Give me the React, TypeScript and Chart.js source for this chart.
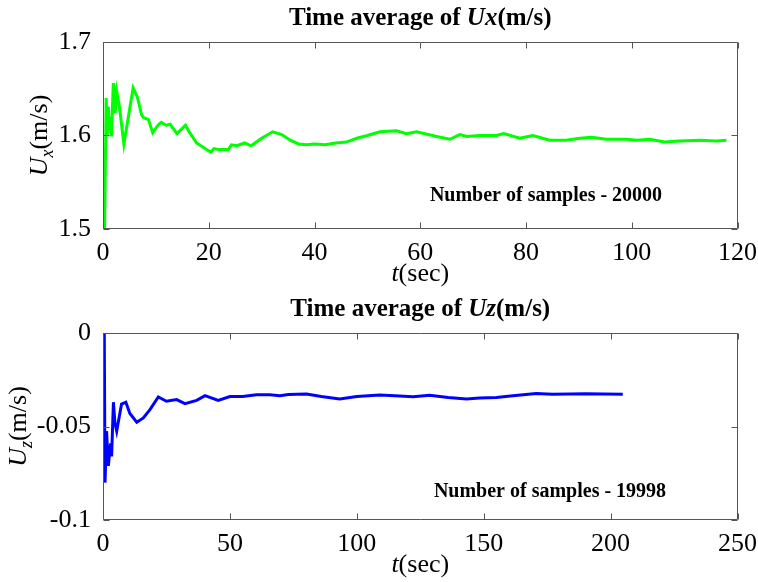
import React, { useEffect, useRef } from "react";
import { Chart, registerables } from "chart.js";

Chart.register(...registerables);

// ---------------- Data ----------------
const uxTime = [
  0.3, 0.6, 0.8, 1.0, 1.2, 1.4, 1.6, 1.95, 2.1, 2.3, 2.6, 3.1, 3.95, 4.8, 5.7, 6.5, 7.3, 7.7, 8.6, 9.4,
  10.4, 11, 12, 12.7, 14, 15.6, 16.4, 17.7, 19.3, 20.4, 21, 21.8, 23.7, 24.3, 25.3, 26.8, 28, 30, 32.1,
  33.8, 35.4, 37, 38.5, 40, 42, 44, 46, 48, 50, 52.4, 55.5, 57.4, 59.3, 63.1, 65.6, 67.5, 68.8, 71.3,
  74.4, 75.8, 78.8, 81.3, 84.5, 87.6, 90.2, 92.4, 95.2, 99, 101, 103.4, 106.2, 109, 112.9, 116, 117.9,
];
const uxValues = [
  1.5, 1.64, 1.6, 1.631, 1.606, 1.62, 1.599, 1.656, 1.648, 1.624, 1.647, 1.631, 1.591, 1.62, 1.651,
  1.641, 1.622, 1.619, 1.617, 1.603, 1.611, 1.614, 1.611, 1.612, 1.602, 1.611, 1.603, 1.592, 1.586,
  1.582, 1.586, 1.585, 1.585, 1.59, 1.589, 1.592, 1.589, 1.597, 1.604, 1.601, 1.595, 1.591, 1.59,
  1.591, 1.59, 1.592, 1.593, 1.597, 1.6, 1.604, 1.605, 1.602, 1.604, 1.599, 1.596, 1.601, 1.599, 1.6,
  1.6, 1.602, 1.597, 1.6, 1.595, 1.595, 1.597, 1.598, 1.596, 1.596, 1.595, 1.596, 1.593, 1.594, 1.595,
  1.594, 1.595,
];

const uzTime = [
  0.5, 0.8, 1.4, 2.1, 3.0, 3.4, 4.1, 4.7, 5.4, 7.3, 9, 10.6, 13.3, 15.9, 18.5, 21.8, 25, 29, 32.3, 36.9,
  40.2, 45.4, 50, 55, 60.5, 65.7, 69.7, 73, 80.2, 86, 93.3, 100, 109, 115, 122.2, 128.7, 136, 143.2,
  148.4, 155, 161.5, 170.7, 177, 183.9, 190, 197, 204.8,
];
const uzValues = [
  0, -0.08, -0.0525, -0.071, -0.059, -0.066, -0.037, -0.048, -0.0525, -0.038, -0.037, -0.043, -0.0477,
  -0.0454, -0.041, -0.0342, -0.0365, -0.0356, -0.0378, -0.036, -0.0335, -0.036, -0.034, -0.034, -0.033,
  -0.033, -0.0335, -0.0329, -0.0326, -0.034, -0.0353, -0.034, -0.0331, -0.0335, -0.0341, -0.0333,
  -0.0345, -0.0353, -0.0347, -0.0345, -0.0335, -0.0323, -0.0327, -0.0326, -0.0325, -0.0326, -0.0328,
];

const uxXTicks = [0, 20, 40, 60, 80, 100, 120];
const uxYTicks = [1.5, 1.6, 1.7];
const uzXTicks = [0, 50, 100, 150, 200, 250];
const uzYTicks = [-0.1, -0.05, 0];
const uxYTickLabels = ["1.5", "1.6", "1.7"];
const uzYTickLabels = ["-0.1", "-0.05", "0"];

const uxNote = "Number of samples - 20000";
const uzNote = "Number of samples - 19998";

// ---------------- Styling ----------------
const SERIF = '"Liberation Serif", "Times New Roman", serif';
const W = 758;
const H = 291;

type Part = { text: string; font: string; dy?: number };

function drawParts(ctx: CanvasRenderingContext2D, parts: Part[], cx: number, y: number) {
  let total = 0;
  parts.forEach((p) => {
    ctx.font = p.font;
    total += ctx.measureText(p.text).width;
  });
  let x = cx - total / 2;
  parts.forEach((p) => {
    ctx.font = p.font;
    ctx.fillText(p.text, x, y + (p.dy || 0));
    x += ctx.measureText(p.text).width;
  });
}

const framePlugin = {
  id: "frame",
  afterDraw(chart: any, _args: any, opts: any) {
    const { ctx, chartArea: a, scales } = chart;
    ctx.save();
    // box
    ctx.strokeStyle = "#555555";
    ctx.lineWidth = 1;
    const l = Math.round(a.left) + 0.5;
    const r = Math.round(a.right) - 0.5;
    const t = Math.round(a.top) + 0.5;
    const b = Math.round(a.bottom) - 0.5;
    ctx.beginPath();
    ctx.rect(l, t, r - l, b - t);
    const L = 6;
    scales.x.ticks.forEach((tk: any) => {
      const px = Math.round(scales.x.getPixelForValue(tk.value)) + 0.5;
      ctx.moveTo(px, b);
      ctx.lineTo(px, b - L);
      ctx.moveTo(px, t);
      ctx.lineTo(px, t + L);
    });
    scales.y.ticks.forEach((tk: any) => {
      const py = Math.round(scales.y.getPixelForValue(tk.value)) + 0.5;
      ctx.moveTo(l, py);
      ctx.lineTo(l + L, py);
      ctx.moveTo(r, py);
      ctx.lineTo(r - L, py);
    });
    ctx.stroke();

    ctx.fillStyle = "#000";
    ctx.textAlign = "left";
    ctx.textBaseline = "alphabetic";
    const cx = (a.left + a.right) / 2;
    // title
    drawParts(ctx, opts.title, cx, opts.titleY);
    // x label
    drawParts(ctx, opts.xLabel, cx, opts.xLabelY);
    // y label
    ctx.save();
    ctx.translate(opts.yLabelX, (a.top + a.bottom) / 2);
    ctx.rotate(-Math.PI / 2);
    drawParts(ctx, opts.yLabel, 0, 0);
    ctx.restore();
    // note
    ctx.font = `bold 20px ${SERIF}`;
    ctx.textAlign = "center";
    ctx.textBaseline = "middle";
    ctx.fillText(opts.note, a.left + opts.noteDX, a.top + opts.noteDY);
    ctx.restore();
  },
};

type PanelProps = {
  times: number[];
  values: number[];
  color: string;
  xTicks: number[];
  yTicks: number[];
  yTickLabels: string[];
  top: number;
  title: Part[];
  yLabel: Part[];
  yLabelX: number;
  note: string;
  noteDX: number;
  noteDY: number;
};

function Panel(p: PanelProps) {
  const ref = useRef<HTMLCanvasElement | null>(null);
  useEffect(() => {
    if (!ref.current) return;
    const xMin = p.xTicks[0];
    const xMax = p.xTicks[p.xTicks.length - 1];
    const yMin = p.yTicks[0];
    const yMax = p.yTicks[p.yTicks.length - 1];
    const chart = new Chart(ref.current, {
      type: "line",
      data: {
        datasets: [
          {
            data: p.times.map((t, i) => ({ x: t, y: p.values[i] })),
            borderColor: p.color,
            backgroundColor: p.color,
            borderWidth: 3,
            pointRadius: 0,
            tension: 0,
            fill: false,
          },
        ],
      },
      options: {
        animation: false,
        responsive: false,
        events: [],
        layout: { padding: { top: 42, right: 20, left: 0, bottom: 0 } },
        plugins: {
          legend: { display: false },
          tooltip: { enabled: false },
          title: { display: false },
          frame: {
            title: p.title,
            titleY: 25,
            xLabel: [
              { text: "t", font: `italic 26px ${SERIF}` },
              { text: "(sec)", font: `26px ${SERIF}` },
            ],
            xLabelY: 281,
            yLabel: p.yLabel,
            yLabelX: p.yLabelX,
            note: p.note,
            noteDX: p.noteDX,
            noteDY: p.noteDY,
          },
        } as any,
        scales: {
          x: {
            type: "linear",
            min: xMin,
            max: xMax,
            afterBuildTicks: (s: any) => {
              s.ticks = p.xTicks.map((v) => ({ value: v }));
            },
            afterFit: (s: any) => {
              s.height = H - 229;
            },
            grid: { display: false },
            border: { display: false },
            ticks: {
              font: { family: SERIF, size: 26 },
              color: "#000",
              padding: 1,
              maxRotation: 0,
              autoSkip: false,
              callback: (v: any) => String(v),
            },
          },
          y: {
            type: "linear",
            min: yMin,
            max: yMax,
            afterBuildTicks: (s: any) => {
              s.ticks = p.yTicks.map((v) => ({ value: v }));
            },
            afterFit: (s: any) => {
              s.width = 103;
            },
            grid: { display: false },
            border: { display: false },
            ticks: {
              font: { family: SERIF, size: 26 },
              color: "#000",
              padding: 4,
              autoSkip: false,
              callback: (_v: any, i: number) => p.yTickLabels[i],
            },
          },
        },
      },
      plugins: [framePlugin],
    } as any);
    return () => chart.destroy();
  }, []);
  return (
    <canvas
      ref={ref}
      width={W}
      height={H}
      style={{ position: "absolute", left: 0, top: p.top, width: W, height: H, display: "block" }}
    />
  );
}

export default function App() {
  const boldTitle = (sym: string): Part[] => [
    { text: "Time average of ", font: `bold 25px ${SERIF}` },
    { text: sym, font: `italic bold 25px ${SERIF}` },
    { text: "(m/s)", font: `bold 25px ${SERIF}` },
  ];
  const yLab = (sub: string): Part[] => [
    { text: "U", font: `italic 26px ${SERIF}` },
    { text: sub, font: `italic 18px ${SERIF}`, dy: 6 },
    { text: "(m/s)", font: `26px ${SERIF}` },
  ];
  return (
    <div style={{ position: "absolute", left: 0, top: 0, width: W, height: 2 * H, background: "#fff" }}>
      <Panel
        times={uxTime}
        values={uxValues}
        color="#00ff00"
        xTicks={uxXTicks}
        yTicks={uxYTicks}
        yTickLabels={uxYTickLabels}
        top={0}
        title={boldTitle("Ux")}
        yLabel={yLab("x")}
        yLabelX={47}
        note={uxNote}
        noteDX={443}
        noteDY={154}
      />
      <Panel
        times={uzTime}
        values={uzValues}
        color="#0000ff"
        xTicks={uzXTicks}
        yTicks={uzYTicks}
        yTickLabels={uzYTickLabels}
        top={H}
        title={boldTitle("Uz")}
        yLabel={yLab("z")}
        yLabelX={26}
        note={uzNote}
        noteDX={447}
        noteDY={159}
      />
    </div>
  );
}
